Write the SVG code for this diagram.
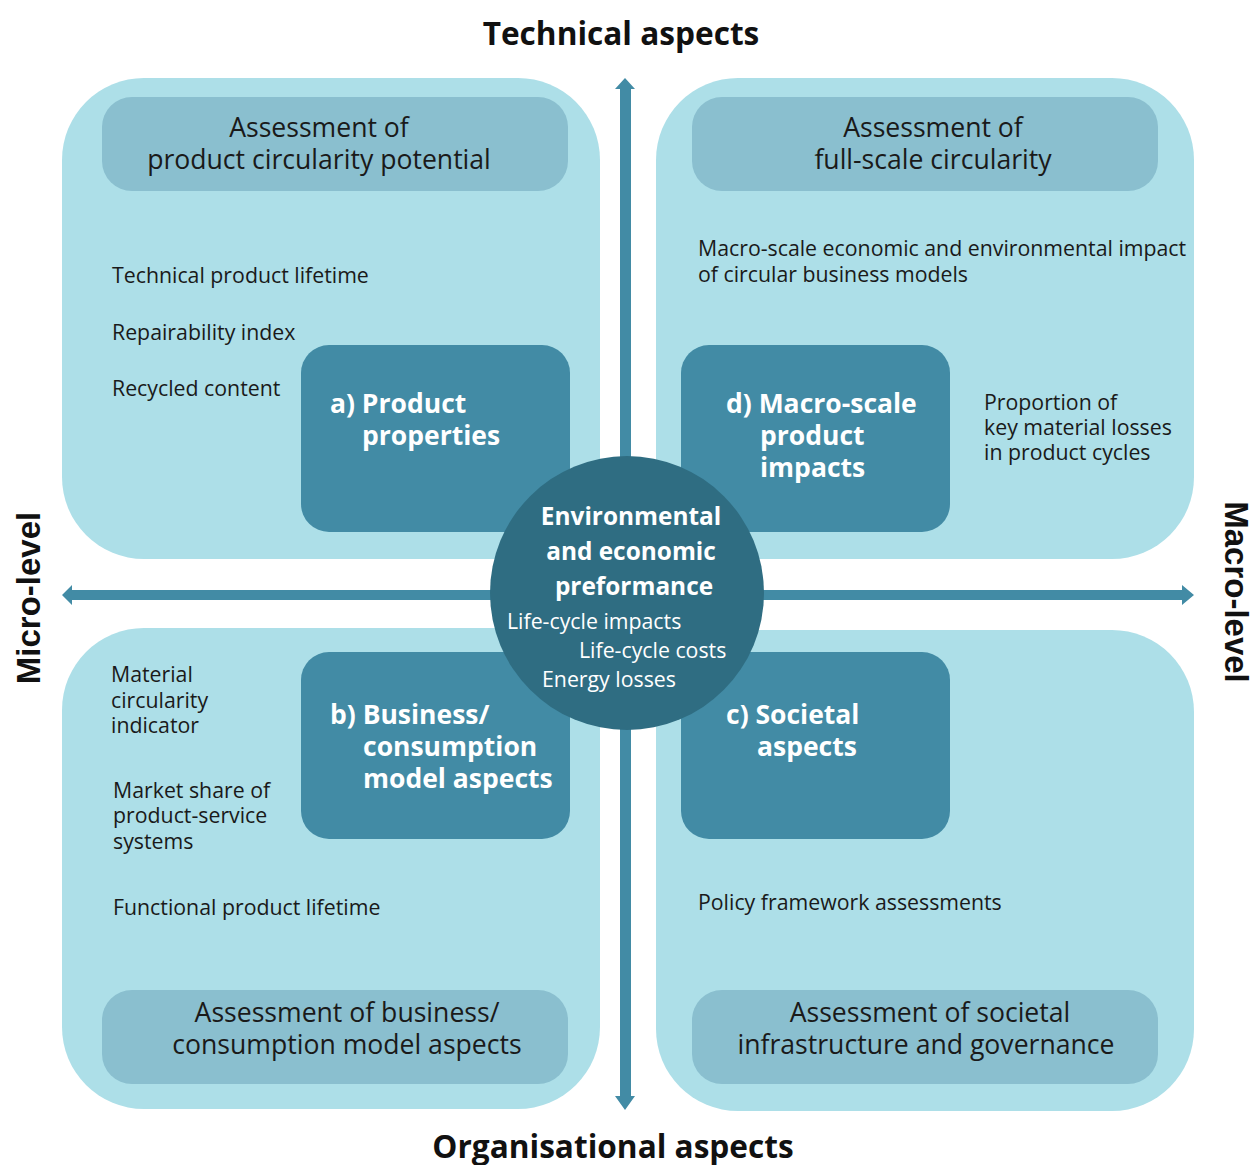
<svg xmlns="http://www.w3.org/2000/svg" width="1252" height="1165" viewBox="0 0 1252 1165">
<defs>
<style>
.quad{fill:#addfe8}
.hdr{fill:#8abfcf}
.box{fill:#428ba5}
.circ{fill:#2f6d82}
.arr{fill:#428ba5}
.t{font-family:"Open Sans","Noto Sans",sans-serif;fill:#1a1a1a}
.hd{font-size:26.6px;text-anchor:middle}
.bd{font-size:21.3px}
.bx{font-family:"Open Sans","Noto Sans",sans-serif;font-weight:bold;font-size:26.5px;fill:#ffffff}
.ct{font-family:"Open Sans","Noto Sans",sans-serif;fill:#ffffff}
.ttl{font-family:"Open Sans","Noto Sans",sans-serif;font-weight:bold;font-size:31.6px;fill:#111;text-anchor:middle}
.side{font-family:"Liberation Sans",Arial,sans-serif;font-weight:bold;font-size:33px;fill:#111;text-anchor:middle}
</style>
</defs>
<rect width="1252" height="1165" fill="#ffffff"/>
<g id="quadrants">
<rect id="q-tl" class="quad" x="62" y="78" width="538" height="481" rx="82"/>
<rect id="q-tr" class="quad" x="656" y="78" width="538" height="481" rx="82"/>
<rect id="q-bl" class="quad" x="62" y="628" width="538" height="481" rx="82"/>
<rect id="q-br" class="quad" x="656" y="630" width="538" height="481" rx="82"/>
</g>
<g id="connectors">
<polygon class="arr" points="625,78 635,89 631,89 631,1096 635,1096 625,1110 615,1096 620,1096 620,89 615,89"/>
<polygon class="arr" points="62,595 72,585 72,590 1182,590 1182,585 1194,595 1182,605 1182,600 72,600 72,605"/>
</g>
<g id="titles">
<text class="ttl" x="621" y="45">Technical aspects</text>
<text class="ttl" x="613" y="1158">Organisational aspects</text>
<text class="side" transform="translate(40,598) rotate(-90)">Micro-level</text>
<text class="side" transform="translate(1225,592) rotate(90)">Macro-level</text>
</g>
<g id="header-tl">
<rect class="hdr" x="102" y="97" width="466" height="94" rx="30"/>
<text class="t hd" x="319" y="137">Assessment of</text>
<text class="t hd" x="319" y="169">product circularity potential</text>
</g>
<g id="header-tr">
<rect class="hdr" x="692" y="97" width="466" height="94" rx="30"/>
<text class="t hd" x="933" y="137">Assessment of</text>
<text class="t hd" x="933" y="169">full-scale circularity</text>
</g>
<g id="footer-bl">
<rect class="hdr" x="102" y="990" width="466" height="94" rx="30"/>
<text class="t hd" x="347" y="1022">Assessment of business/</text>
<text class="t hd" x="347" y="1054">consumption model aspects</text>
</g>
<g id="footer-br">
<rect class="hdr" x="692" y="990" width="466" height="94" rx="30"/>
<text class="t hd" x="930" y="1022">Assessment of societal</text>
<text class="t hd" x="926" y="1054">infrastructure and governance</text>
</g>
<g id="texts-tl">
<text class="t bd" x="112" y="283">Technical product lifetime</text>
<text class="t bd" x="112" y="340">Repairability index</text>
<text class="t bd" x="112" y="396">Recycled content</text>
</g>
<g id="texts-tr">
<text class="t bd" x="698" y="256">Macro-scale economic and environmental impact</text>
<text class="t bd" x="698" y="282">of circular business models</text>
<text class="t bd" x="984" y="410">Proportion of</text>
<text class="t bd" x="984" y="435">key material losses</text>
<text class="t bd" x="984" y="460">in product cycles</text>
</g>
<g id="texts-bl">
<text class="t bd" x="111" y="682">Material</text>
<text class="t bd" x="111" y="708">circularity</text>
<text class="t bd" x="111" y="733">indicator</text>
<text class="t bd" x="113" y="798">Market share of</text>
<text class="t bd" x="113" y="823">product-service</text>
<text class="t bd" x="113" y="849">systems</text>
<text class="t bd" x="113" y="915">Functional product lifetime</text>
</g>
<g id="texts-br">
<text class="t bd" x="698" y="910">Policy framework assessments</text>
</g>
<g id="node-a">
<rect class="box" x="301" y="345" width="269" height="187" rx="28"/>
<text class="bx" x="330" y="413">a) Product</text>
<text class="bx" x="362" y="445">properties</text>
</g>
<g id="node-d">
<rect class="box" x="681" y="345" width="269" height="187" rx="28"/>
<text class="bx" x="726" y="413">d) Macro-scale</text>
<text class="bx" x="760" y="445">product</text>
<text class="bx" x="760" y="477">impacts</text>
</g>
<g id="node-b">
<rect class="box" x="301" y="652" width="269" height="187" rx="28"/>
<text class="bx" x="330" y="724">b) Business/</text>
<text class="bx" x="363" y="756">consumption</text>
<text class="bx" x="363" y="788">model aspects</text>
</g>
<g id="node-c">
<rect class="box" x="681" y="652" width="269" height="187" rx="28"/>
<text class="bx" x="726" y="724">c) Societal</text>
<text class="bx" x="757" y="756">aspects</text>
</g>
<g id="node-center">
<circle class="circ" cx="627" cy="593" r="137"/>
<text class="ct" x="631" y="525" font-size="24.4" font-weight="bold" text-anchor="middle">Environmental</text>
<text class="ct" x="631" y="560" font-size="24.4" font-weight="bold" text-anchor="middle">and economic</text>
<text class="ct" x="634" y="595" font-size="24.4" font-weight="bold" text-anchor="middle">preformance</text>
<text class="ct" x="507" y="629" font-size="21.3">Life-cycle impacts</text>
<text class="ct" x="579" y="658" font-size="21.3">Life-cycle costs</text>
<text class="ct" x="542" y="687" font-size="21.3">Energy losses</text>
</g>
</svg>
